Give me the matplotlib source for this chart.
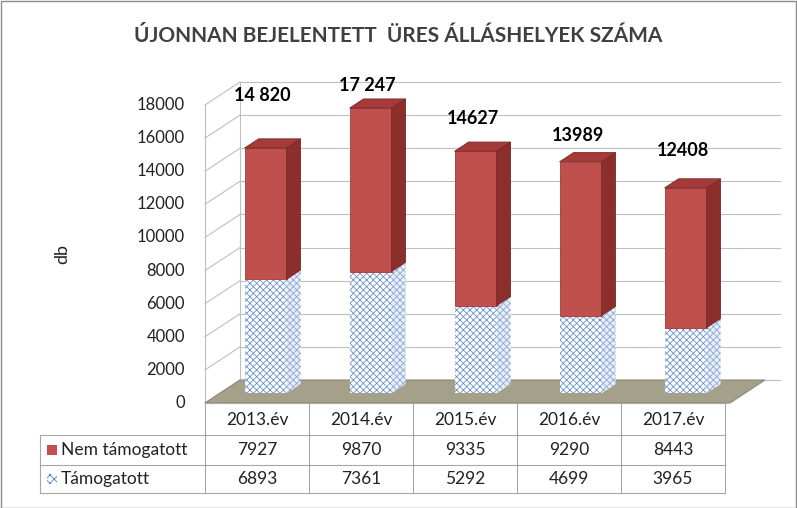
import matplotlib
matplotlib.use("Agg")
import matplotlib.pyplot as plt
from matplotlib.patches import Polygon, Rectangle

plt.rcParams["font.family"] = "Lato"
plt.rcParams["hatch.linewidth"] = 0.6

years = ["2013.év", "2014.év", "2015.év", "2016.év", "2017.év"]
nem_tamogatott = [7927, 9870, 9335, 9290, 8443]
tamogatott = [6893, 7361, 5292, 4699, 3965]
total_labels = ["14 820", "17 247", "14627", "13989", "12408"]
label_px_y = [95, 85, 118, 135, 150]
yticks = list(range(0, 18001, 2000))

W, H = 797, 508
fig = plt.figure(figsize=(W/100, H/100), dpi=100)
L, R, B, T = 205, 730, 403, 105
ax = fig.add_axes([L/W, 1-B/H, (R-L)/W, (B-T)/H])
ax.set_xlim(0, 5); ax.set_ylim(0, 18000); ax.axis("off")
pxx = 5/(R-L); pxy = 18000/(B-T)
DX, DY = 35*pxx, 23*pxy

grid = "#BFBFBF"
for v in yticks:
    ax.plot([DX, 5+DX+15*pxx], [v+DY, v+DY], color=grid, lw=0.8, clip_on=False, zorder=0)
    ax.plot([0, DX], [v, v+DY], color=grid, lw=0.8, clip_on=False, zorder=0)
ax.plot([DX, DX], [DY, 18000+DY], color=grid, lw=0.8, clip_on=False, zorder=0)
ax.plot([0, 0], [0, 18000], color=grid, lw=0.8, clip_on=False, zorder=0)
for v in yticks:
    ax.text(-20*pxx, v, str(v), ha="right", va="center", fontsize=12, color="#222222")
ax.text(-143*pxx, 9000, "db", rotation=90, ha="center", va="center", fontsize=13, color="#222222")

ax.add_patch(Polygon([(0, 0), (5, 0), (5+DX, DY), (DX, DY)], closed=True,
                     fc="#A5A08A", ec="#8E8A78", lw=0.8, clip_on=False, zorder=1))

d0, d1 = 0.2, 0.6
w = 0.40
for i in range(5):
    x = i + 0.31 + d0*DX
    yb = d0*DY + 5*pxy
    ddx, ddy = (d1-d0)*DX, (d1-d0)*DY
    segs = [(0, tamogatott[i], "hatch"), (tamogatott[i], tamogatott[i]+nem_tamogatott[i], "red")]
    for (a, b, kind) in segs:
        y0, y1 = yb+a, yb+b
        side = [(x+w, y0), (x+w+ddx, y0+ddy), (x+w+ddx, y1+ddy), (x+w, y1)]
        if kind == "red":
            ax.add_patch(Rectangle((x, y0), w, b-a, fc="#C0504D", ec="#9E3B38", lw=0.6, zorder=3, clip_on=False))
            ax.add_patch(Polygon(side, fc="#8C2F2C", ec="#7A2826", lw=0.6, zorder=3, clip_on=False))
            top = [(x, y1), (x+w, y1), (x+w+ddx, y1+ddy), (x+ddx, y1+ddy)]
            ax.add_patch(Polygon(top, fc="#A53B38", ec="#7A2826", lw=0.6, zorder=3, clip_on=False))
        else:
            ax.add_patch(Rectangle((x, y0), w, b-a, fc="white", ec="#6A93CC", hatch="xxxxx", lw=0, zorder=3, clip_on=False))
            ax.add_patch(Polygon(side, fc="#E8EEF7", ec="#8AA8D6", hatch="xxxxx", lw=0, zorder=3, clip_on=False))
    ax.text(i+0.55, 18000*(B-label_px_y[i])/(B-T), total_labels[i], ha="center", va="center",
            fontsize=13, fontweight="bold", color="black")

ov = fig.add_axes([0, 0, 1, 1], zorder=5)
ov.set_xlim(0, W); ov.set_ylim(H, 0); ov.axis("off")
ov.patch.set_alpha(0)
ov.add_patch(Rectangle((0.5, 0.5), W-1, H-1, fill=False, ec="#8C8C8C", lw=1))
ov.text(398, 36, "ÚJONNAN BEJELENTETT  ÜRES ÁLLÁSHELYEK SZÁMA", ha="center", va="center",
        fontsize=15, fontweight="bold", color="#404040")

tc = "#A6A6A6"
cols = [205 + 104*k for k in range(6)]
rows = [403, 435, 465, 493]
for yv in rows[1:]:
    ov.plot([40, cols[-1]], [yv, yv], color=tc, lw=0.8)
ov.plot([cols[0], cols[-1]], [rows[0], rows[0]], color=tc, lw=0.8)
ov.plot([40, 40], [rows[1], rows[3]], color=tc, lw=0.8)
for c in cols:
    ov.plot([c, c], [rows[0], rows[3]], color=tc, lw=0.8)
for k in range(5):
    cx = (cols[k]+cols[k+1])/2
    ov.text(cx, 420, years[k], ha="center", va="center", fontsize=12.5, color="#222222")
    ov.text(cx, 450, str(nem_tamogatott[k]), ha="center", va="center", fontsize=12.5, color="#222222")
    ov.text(cx, 479, str(tamogatott[k]), ha="center", va="center", fontsize=12.5, color="#222222")
ov.add_patch(Rectangle((47, 445), 10, 10, fc="#C0504D", ec="none"))
ov.add_patch(Rectangle((47, 474), 10, 10, fc="white", ec="#4F81BD", hatch="xxxx", lw=0))
ov.text(61, 450, "Nem támogatott", ha="left", va="center", fontsize=12.5, color="#222222")
ov.text(61, 479, "Támogatott", ha="left", va="center", fontsize=12.5, color="#222222")

fig.savefig("out.png", dpi=100)
